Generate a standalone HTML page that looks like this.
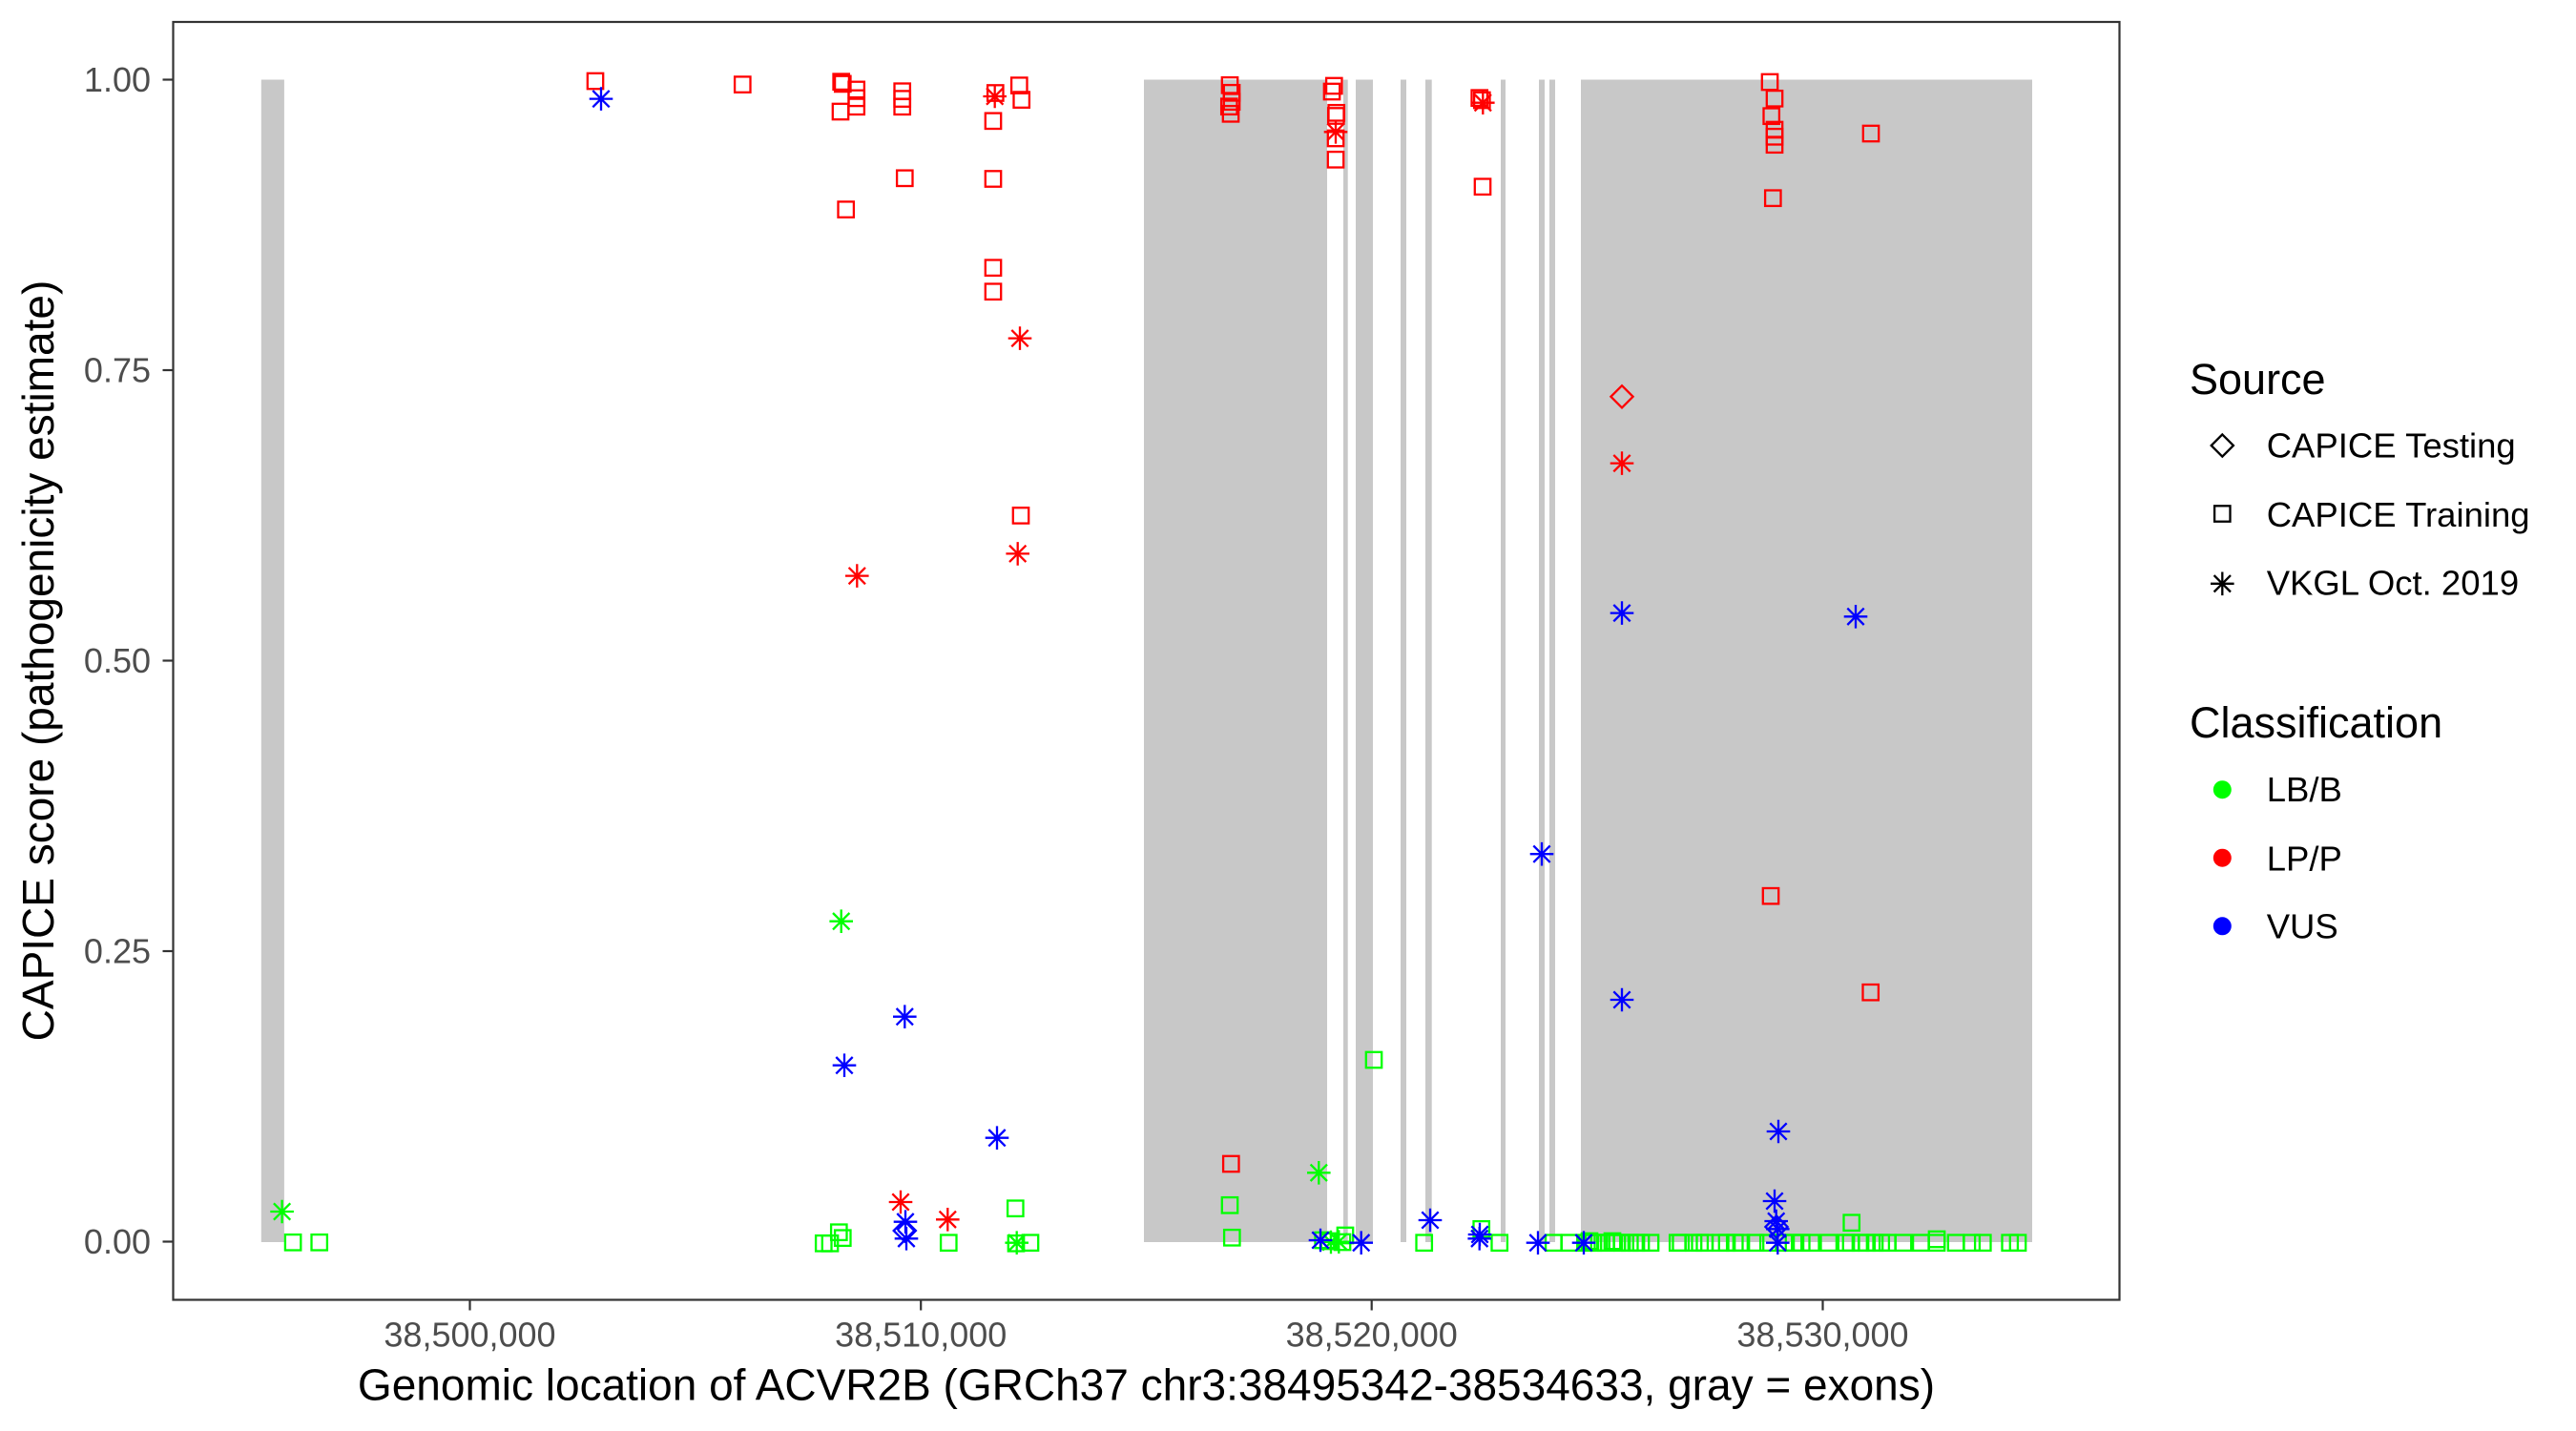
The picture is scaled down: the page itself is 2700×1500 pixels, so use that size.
<!DOCTYPE html>
<html><head><meta charset="utf-8"><style>
html,body{margin:0;padding:0;background:#fff;}
svg{display:block;font-family:"Liberation Sans",Arial,sans-serif;}
</style></head><body>
<svg width="2700" height="1500" viewBox="0 0 2700 1500" xmlns="http://www.w3.org/2000/svg">
<defs>
<g id="s"><rect x="-8.2" y="-8.2" width="16.4" height="16.4" fill="none" stroke-width="2.3"/></g>
<g id="a"><path d="M-12.3 0H12.3M0 -12.3V12.3M-8.7 -8.7L8.7 8.7M-8.7 8.7L8.7 -8.7" fill="none" stroke-width="2.3"/></g>
<g id="d"><path d="M0 -11.6L11.6 0L0 11.6L-11.6 0Z" fill="none" stroke-width="2.3"/></g>
</defs>
<rect width="2700" height="1500" fill="#fff"/>
<g fill="#c8c8c8">
<rect x="273.8" y="83.5" width="24.1" height="1218.5"/>
<rect x="1199" y="83.5" width="192" height="1218.5"/>
<rect x="1408" y="83.5" width="4.7" height="1218.5"/>
<rect x="1421" y="83.5" width="18" height="1218.5"/>
<rect x="1468" y="83.5" width="6" height="1218.5"/>
<rect x="1494" y="83.5" width="6.7" height="1218.5"/>
<rect x="1573" y="83.5" width="5" height="1218.5"/>
<rect x="1613" y="83.5" width="6" height="1218.5"/>
<rect x="1624" y="83.5" width="6" height="1218.5"/>
<rect x="1657" y="83.5" width="473" height="1218.5"/>
</g>
<g stroke="#00ff00">
<use href="#a" x="295.6" y="1270"/>
<use href="#s" x="307.1" y="1302.3"/>
<use href="#s" x="334.7" y="1302.3"/>
<use href="#a" x="881.7" y="965.7"/>
<use href="#s" x="994.3" y="1302.7"/>
<use href="#s" x="1064.3" y="1266.7"/>
<use href="#s" x="863.3" y="1303.3"/>
<use href="#s" x="870" y="1303.3"/>
<use href="#s" x="879.3" y="1291.7"/>
<use href="#s" x="883.3" y="1297.7"/>
<use href="#a" x="1065.7" y="1302.7"/>
<use href="#s" x="1065" y="1303.3"/>
<use href="#s" x="1080" y="1302.7"/>
<use href="#s" x="1289" y="1263.3"/>
<use href="#s" x="1291.3" y="1297.3"/>
<use href="#a" x="1382.3" y="1229.3"/>
<use href="#s" x="1386.7" y="1300"/>
<use href="#s" x="1393" y="1301"/>
<use href="#s" x="1410" y="1295"/>
<use href="#s" x="1407" y="1302"/>
<use href="#a" x="1403.3" y="1301.7"/>
<use href="#a" x="1395" y="1302"/>
<use href="#s" x="1440" y="1111"/>
<use href="#s" x="1492.7" y="1302.7"/>
<use href="#s" x="1552.7" y="1288.3"/>
<use href="#s" x="1571.7" y="1302.7"/>
<use href="#s" x="1628.3" y="1302.7"/>
<use href="#s" x="1645" y="1302.7"/>
<use href="#s" x="1940.7" y="1281.7"/>
<use href="#s" x="2030" y="1299"/>
<use href="#s" x="1663.3" y="1302.7"/>
<use href="#s" x="1666" y="1301"/>
<use href="#s" x="1670" y="1302.7"/>
<use href="#s" x="1676" y="1302.7"/>
<use href="#s" x="1683.3" y="1302.7"/>
<use href="#s" x="1690" y="1301"/>
<use href="#s" x="1695" y="1302.7"/>
<use href="#s" x="1700" y="1302.7"/>
<use href="#s" x="1708.3" y="1302.7"/>
<use href="#s" x="1715" y="1302.7"/>
<use href="#s" x="1720" y="1302.7"/>
<use href="#s" x="1730" y="1302.7"/>
<use href="#s" x="1758.3" y="1302.7"/>
<use href="#s" x="1761.7" y="1302.7"/>
<use href="#s" x="1775" y="1302.7"/>
<use href="#s" x="1781.7" y="1302.7"/>
<use href="#s" x="1786.7" y="1302.7"/>
<use href="#s" x="1803.3" y="1302.7"/>
<use href="#s" x="1810" y="1302.7"/>
<use href="#s" x="1818.3" y="1302.7"/>
<use href="#s" x="1825" y="1302.7"/>
<use href="#s" x="1840" y="1302.7"/>
<use href="#s" x="1853.3" y="1302.7"/>
<use href="#s" x="1870" y="1302.7"/>
<use href="#s" x="1880" y="1302.7"/>
<use href="#s" x="1888.3" y="1302.7"/>
<use href="#s" x="1898.3" y="1302.7"/>
<use href="#s" x="1916.7" y="1302.7"/>
<use href="#s" x="1935" y="1302.7"/>
<use href="#s" x="1940" y="1302.7"/>
<use href="#s" x="1950" y="1302.7"/>
<use href="#s" x="1956.7" y="1302.7"/>
<use href="#s" x="1965" y="1302.7"/>
<use href="#s" x="1971.7" y="1302.7"/>
<use href="#s" x="1978.3" y="1302.7"/>
<use href="#s" x="1995" y="1302.7"/>
<use href="#s" x="2013.3" y="1302.7"/>
<use href="#s" x="2030" y="1302.7"/>
<use href="#s" x="2050" y="1302.7"/>
<use href="#s" x="2066.7" y="1302.7"/>
<use href="#s" x="2078.3" y="1302.7"/>
<use href="#s" x="2106.7" y="1302.7"/>
<use href="#s" x="2115" y="1302.7"/>
</g>
<g stroke="#ff0000">
<use href="#s" x="624" y="85"/>
<use href="#s" x="778.3" y="88.6"/>
<use href="#s" x="881.7" y="85.7"/>
<use href="#s" x="883.3" y="87.9"/>
<use href="#s" x="897.7" y="93.9"/>
<use href="#s" x="897.7" y="102.9"/>
<use href="#s" x="897.7" y="111.8"/>
<use href="#s" x="881" y="117"/>
<use href="#s" x="945.7" y="95.7"/>
<use href="#s" x="945.7" y="103.6"/>
<use href="#s" x="945.7" y="111.8"/>
<use href="#s" x="948.3" y="186.8"/>
<use href="#s" x="886.7" y="219.6"/>
<use href="#a" x="1042.7" y="101"/>
<use href="#s" x="1043.3" y="97.5"/>
<use href="#s" x="1041" y="126.8"/>
<use href="#s" x="1068.3" y="89.6"/>
<use href="#s" x="1070.7" y="104.6"/>
<use href="#s" x="1041" y="187.5"/>
<use href="#s" x="1041" y="280.7"/>
<use href="#s" x="1041" y="305.7"/>
<use href="#a" x="1069" y="354.6"/>
<use href="#s" x="1070" y="540.4"/>
<use href="#a" x="1066.7" y="580.4"/>
<use href="#a" x="898.3" y="603.6"/>
<use href="#a" x="944" y="1260"/>
<use href="#a" x="993.3" y="1278.3"/>
<use href="#s" x="1289" y="89.3"/>
<use href="#s" x="1291" y="97.3"/>
<use href="#s" x="1291" y="106.7"/>
<use href="#s" x="1288.3" y="111.7"/>
<use href="#s" x="1290" y="119.3"/>
<use href="#s" x="1398.3" y="90"/>
<use href="#s" x="1396" y="96"/>
<use href="#s" x="1400.7" y="118.3"/>
<use href="#s" x="1400.3" y="121.5"/>
<use href="#a" x="1400" y="138.3"/>
<use href="#s" x="1400" y="145"/>
<use href="#s" x="1400" y="167.3"/>
<use href="#s" x="1550.7" y="102.7"/>
<use href="#s" x="1553.3" y="105"/>
<use href="#a" x="1554.3" y="107.7"/>
<use href="#s" x="1554" y="195.7"/>
<use href="#s" x="1290.3" y="1220"/>
<use href="#d" x="1700" y="415.8"/>
<use href="#a" x="1700" y="485.6"/>
<use href="#s" x="1856" y="939.2"/>
<use href="#s" x="1960.7" y="1040.2"/>
<use href="#s" x="1855" y="86"/>
<use href="#s" x="1860" y="103.3"/>
<use href="#s" x="1856.7" y="121.7"/>
<use href="#s" x="1860" y="136"/>
<use href="#s" x="1860" y="143.3"/>
<use href="#s" x="1860" y="151.7"/>
<use href="#s" x="1858.3" y="207.7"/>
<use href="#s" x="1961" y="140"/>
</g>
<g stroke="#0000ff">
<use href="#a" x="630" y="103.6"/>
<use href="#a" x="948.3" y="1065.7"/>
<use href="#a" x="885" y="1116.7"/>
<use href="#a" x="1045" y="1192.7"/>
<use href="#a" x="949" y="1280.7"/>
<use href="#d" x="948.3" y="1290"/>
<use href="#a" x="950" y="1298.3"/>
<use href="#a" x="1384" y="1300"/>
<use href="#a" x="1426.7" y="1302.7"/>
<use href="#a" x="1499" y="1279"/>
<use href="#a" x="1550.7" y="1298.3"/>
<use href="#a" x="1551" y="1294"/>
<use href="#a" x="1612" y="1302.7"/>
<use href="#a" x="1660" y="1302.7"/>
<use href="#a" x="1700" y="642.6"/>
<use href="#a" x="1945" y="646.3"/>
<use href="#a" x="1616" y="895.2"/>
<use href="#a" x="1700" y="1048"/>
<use href="#a" x="1864" y="1186"/>
<use href="#a" x="1860" y="1259"/>
<use href="#a" x="1861.7" y="1280"/>
<use href="#d" x="1862" y="1286"/>
<use href="#a" x="1863.3" y="1288.3"/>
<use href="#a" x="1863.3" y="1302.7"/>
</g>
<rect x="181.5" y="23" width="2040" height="1339.5" fill="none" stroke="#333333" stroke-width="2.2"/>
<g stroke="#333333" stroke-width="2.2">
<line x1="170.5" y1="83.5" x2="181.5" y2="83.5"/>
<line x1="170.5" y1="388" x2="181.5" y2="388"/>
<line x1="170.5" y1="692.5" x2="181.5" y2="692.5"/>
<line x1="170.5" y1="997" x2="181.5" y2="997"/>
<line x1="170.5" y1="1301.5" x2="181.5" y2="1301.5"/>
<line x1="492.5" y1="1362.5" x2="492.5" y2="1373.5"/>
<line x1="965.2" y1="1362.5" x2="965.2" y2="1373.5"/>
<line x1="1437.7" y1="1362.5" x2="1437.7" y2="1373.5"/>
<line x1="1910.5" y1="1362.5" x2="1910.5" y2="1373.5"/>
</g>
<g font-size="36" fill="#4d4d4d" text-anchor="end">
<text x="158" y="96.2">1.00</text>
<text x="158" y="400.7">0.75</text>
<text x="158" y="705.2">0.50</text>
<text x="158" y="1009.7">0.25</text>
<text x="158" y="1314.2">0.00</text>
</g>
<g font-size="36" fill="#4d4d4d" text-anchor="middle">
<text x="492.5" y="1411.5">38,500,000</text>
<text x="965.2" y="1411.5">38,510,000</text>
<text x="1437.7" y="1411.5">38,520,000</text>
<text x="1910.5" y="1411.5">38,530,000</text>
</g>
<text x="1201.5" y="1467.5" font-size="46" fill="#000" text-anchor="middle">Genomic location of ACVR2B (GRCh37 chr3:38495342-38534633, gray = exons)</text>
<text transform="translate(56,692.5) rotate(-90)" font-size="46" fill="#000" text-anchor="middle">CAPICE score (pathogenicity estimate)</text>
<text x="2295" y="413" font-size="45" fill="#000">Source</text>
<g stroke="#000">
<use href="#d" x="2329.3" y="467"/>
<use href="#s" x="2329.3" y="538.5"/>
<use href="#a" x="2329.3" y="611.8"/>
</g>
<g font-size="36.5" fill="#000">
<text x="2375.7" y="479.6">CAPICE Testing</text>
<text x="2375.7" y="552">CAPICE Training</text>
<text x="2375.7" y="623.6">VKGL Oct. 2019</text>
</g>
<text x="2295" y="773" font-size="45" fill="#000">Classification</text>
<circle cx="2329.3" cy="827.7" r="9.5" fill="#00ff00"/>
<circle cx="2329.3" cy="899.2" r="9.5" fill="#ff0000"/>
<circle cx="2329.3" cy="970.8" r="9.5" fill="#0000ff"/>
<g font-size="36.5" fill="#000">
<text x="2375.7" y="840">LB/B</text>
<text x="2375.7" y="912.7">LP/P</text>
<text x="2375.7" y="983.4">VUS</text>
</g>
</svg>
</body></html>
